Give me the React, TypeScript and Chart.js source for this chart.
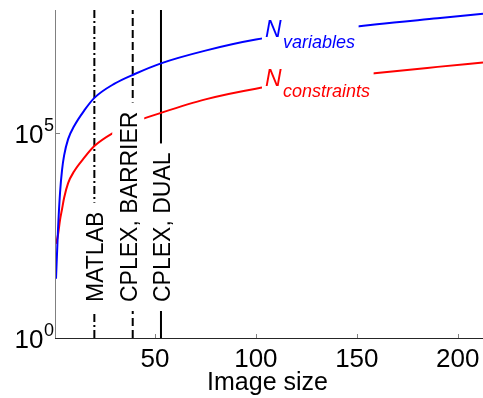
import React, { useEffect, useRef } from 'react';
import { Chart, registerables } from 'chart.js';

Chart.register(...registerables);

// ---- data ----
const imageSizes = [1, 2, 3, 4, 5, 7, 10, 15, 20, 30, 40, 53, 75, 100, 130, 160, 190, 212.5];
const nVariables = [28, 450, 3500, 12600, 28000, 71000, 148000, 355000, 720000, 1.6e6, 2.75e6, 5.0e6, 1.02e7, 1.9e7, 3.0e7, 4.5e7, 6.3e7, 8.1e7];
const nConstraints = [200, 330, 760, 1400, 2600, 6000, 11700, 25000, 48000, 105000, 186000, 310000, 660000, 1.2e6, 1.95e6, 2.9e6, 4.1e6, 5.25e6];
const solverLimits = [20, 39, 53];
const solverNames = ['MATLAB', 'CPLEX, BARRIER', 'CPLEX, DUAL'];
const xTicks = [50, 100, 150, 200];
const yTickExponents = [0, 5];
const xRange = [1, 212.5];
const yRange = [1, 1e8];
const xLabel = 'Image size';

const FONT = '"Liberation Sans", Arial, Helvetica, sans-serif';

export default function App() {
  const ref = useRef<HTMLCanvasElement>(null);

  useEffect(() => {
    const canvas = ref.current;
    if (!canvas) return;

    const axesPlugin = {
      id: 'matlabAxes',
      beforeDatasetsDraw(chart: any) {
        const { ctx, chartArea } = chart;
        const xs = chart.scales.x;
        const ys = chart.scales.y;
        ctx.save();
        // y axis (grey)
        ctx.fillStyle = '#808080';
        ctx.fillRect(chartArea.left - 1, chartArea.top, 1, chartArea.bottom - chartArea.top + 1);
        // y ticks
        yTickExponents.forEach((e) => {
          const py = Math.round(ys.getPixelForValue(Math.pow(10, e)));
          ctx.fillRect(chartArea.left, py, 4, 1);
        });
        // x ticks
        xTicks.forEach((v) => {
          const px = Math.round(xs.getPixelForValue(v));
          ctx.fillRect(px, chartArea.bottom - 4, 1, 4);
        });
        // x axis (dark)
        ctx.fillStyle = '#262626';
        ctx.fillRect(chartArea.left - 1, chartArea.bottom, chartArea.right - chartArea.left + 1, 1);
        ctx.restore();
      },
      afterDatasetsDraw(chart: any) {
        const { ctx, chartArea } = chart;
        const xs = chart.scales.x;
        const ys = chart.scales.y;
        ctx.save();

        // tick labels
        ctx.fillStyle = '#000';
        ctx.textBaseline = 'alphabetic';
        ctx.font = `26px ${FONT}`;
        ctx.textAlign = 'center';
        xTicks.forEach((v) => {
          ctx.fillText(String(v), xs.getPixelForValue(v), chartArea.bottom + 29);
        });
        yTickExponents.forEach((e) => {
          const py = ys.getPixelForValue(Math.pow(10, e));
          ctx.font = `26px ${FONT}`;
          ctx.textAlign = 'right';
          ctx.fillText('10', chartArea.left - 12.5, py + 10.3);
          ctx.font = `18px ${FONT}`;
          ctx.textAlign = 'left';
          ctx.fillText(String(e), chartArea.left - 12, py - 2);
        });
        // x label
        ctx.font = `25px ${FONT}`;
        ctx.textAlign = 'center';
        ctx.fillText(xLabel, (chartArea.left + chartArea.right) / 2 - 2, chartArea.bottom + 52);

        // solver labels (rotated, white background)
        const capOffsets = [0, -4.5, 0.5];
        ctx.font = `23px ${FONT}`;
        solverLimits.forEach((v, i) => {
          const cx = xs.getPixelForValue(v) + capOffsets[i];
          const bottom = chartArea.bottom - 36;
          const w = ctx.measureText(solverNames[i]).width;
          ctx.fillStyle = '#fff';
          ctx.fillRect(cx - 16, bottom - w - 9, 32, w + 18);
          ctx.save();
          ctx.translate(cx + 8.3, bottom);
          ctx.rotate(-Math.PI / 2);
          ctx.fillStyle = '#000';
          ctx.textAlign = 'left';
          ctx.fillText(solverNames[i], 0, 0);
          ctx.restore();
        });

        // series labels N_variables / N_constraints
        const seriesLabels = [
          { main: 'N', sub: 'variables', color: '#0000ff', x: 104.5, logY: 7.335 },
          { main: 'N', sub: 'constraints', color: '#ff0000', x: 104.5, logY: 6.146 },
        ];
        seriesLabels.forEach((l) => {
          const px = xs.getPixelForValue(l.x);
          const py = ys.getPixelForValue(Math.pow(10, l.logY));
          ctx.font = `italic 23px ${FONT}`;
          const wN = ctx.measureText(l.main).width;
          ctx.font = `italic 18px ${FONT}`;
          const wS = ctx.measureText(l.sub).width;
          ctx.fillStyle = '#fff';
          ctx.fillRect(px - 3, py - 20, wN + wS + 8, 35);
          ctx.fillStyle = l.color;
          ctx.textAlign = 'left';
          ctx.font = `italic 23px ${FONT}`;
          ctx.fillText(l.main, px, py);
          ctx.font = `italic 18px ${FONT}`;
          ctx.fillText(l.sub, px + wN + 1.5, py + 11);
        });

        ctx.restore();
      },
    };

    const dashes = [[8, 3, 2, 3], [8, 4], []];

    const chart = new Chart(canvas, {
      type: 'line',
      data: {
        datasets: [
          {
            label: 'N variables',
            data: imageSizes.map((x, i) => ({ x, y: nVariables[i] })),
            borderColor: '#0000ff',
            borderWidth: 2,
            pointRadius: 0,
            cubicInterpolationMode: 'monotone',
            fill: false,
          },
          {
            label: 'N constraints',
            data: imageSizes.map((x, i) => ({ x, y: nConstraints[i] })),
            borderColor: '#ff0000',
            borderWidth: 2,
            pointRadius: 0,
            cubicInterpolationMode: 'monotone',
            fill: false,
          },
          ...solverLimits.map((v, i) => ({
            label: solverNames[i],
            data: [
              { x: v, y: yRange[0] },
              { x: v, y: yRange[1] },
            ],
            borderColor: '#000000',
            borderWidth: 2,
            borderDash: dashes[i],
            pointRadius: 0,
            fill: false,
          })),
        ],
      } as any,
      options: {
        animation: false,
        responsive: false,
        devicePixelRatio: 1,
        layout: { padding: { top: 10, right: 0, left: 0, bottom: 0 } },
        plugins: { legend: { display: false }, tooltip: { enabled: false } },
        scales: {
          x: {
            type: 'linear',
            min: xRange[0],
            max: xRange[1],
            grid: { display: false },
            border: { display: false },
            ticks: { display: false },
            afterFit: (s: any) => {
              s.height = 60;
            },
            afterBuildTicks: (s: any) => {
              s.ticks = xTicks.map((v) => ({ value: v }));
            },
          },
          y: {
            type: 'logarithmic',
            min: yRange[0],
            max: yRange[1],
            grid: { display: false },
            border: { display: false },
            ticks: { display: false },
            afterFit: (s: any) => {
              s.width = 56;
            },
            afterBuildTicks: (s: any) => {
              s.ticks = yTickExponents.map((e) => ({ value: Math.pow(10, e) }));
            },
          },
        },
      } as any,
      plugins: [axesPlugin],
    });

    return () => chart.destroy();
  }, []);

  return (
    <div style={{ position: 'fixed', left: 0, top: 0, width: 483, height: 398, background: '#fff' }}>
      <canvas ref={ref} width={483} height={398} style={{ display: 'block', width: 483, height: 398 }} />
    </div>
  );
}
